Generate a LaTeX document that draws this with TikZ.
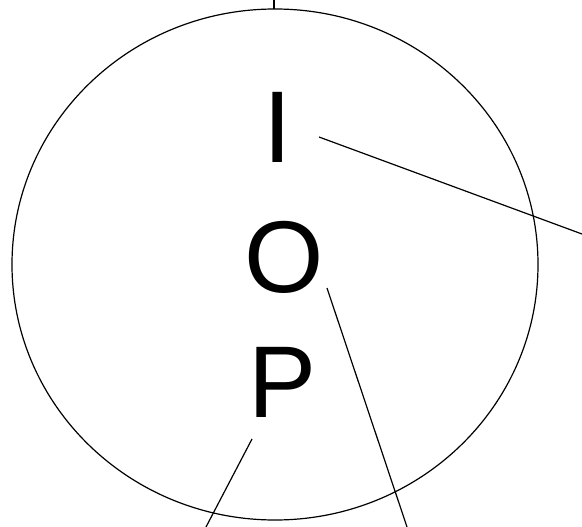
\documentclass[tikz,border=0pt]{standalone}
\usepackage{fontspec}
\setmainfont{Liberation Sans}
\begin{document}
\begin{tikzpicture}[x=1pt,y=-1pt,line width=1.2pt,
  letter/.style={font=\fontsize{102}{102}\selectfont,inner sep=0pt,anchor=base}]
\useasboundingbox (0,0) rectangle (582,527);
\draw (275,264.5) ellipse (263 and 255.5);
\coordinate (top) at (274,0);
\coordinate (rim) at (274,9);
\draw (top) -- (rim);
\node[letter] (i) at (277.5,163) {I};
\node[letter] (o) at (284.5,292) {O};
\node[letter] (p) at (282.5,417) {P};
\coordinate (i-tip) at (319,137);
\coordinate (o-tip) at (327,288);
\coordinate (p-tip) at (252,439);
\coordinate (i-out) at (582,234);
\coordinate (o-out) at (407,527);
\coordinate (p-out) at (206,527);
\draw (i-tip) -- (i-out);
\draw (o-tip) -- (o-out);
\draw (p-tip) -- (p-out);
\end{tikzpicture}
\end{document}
